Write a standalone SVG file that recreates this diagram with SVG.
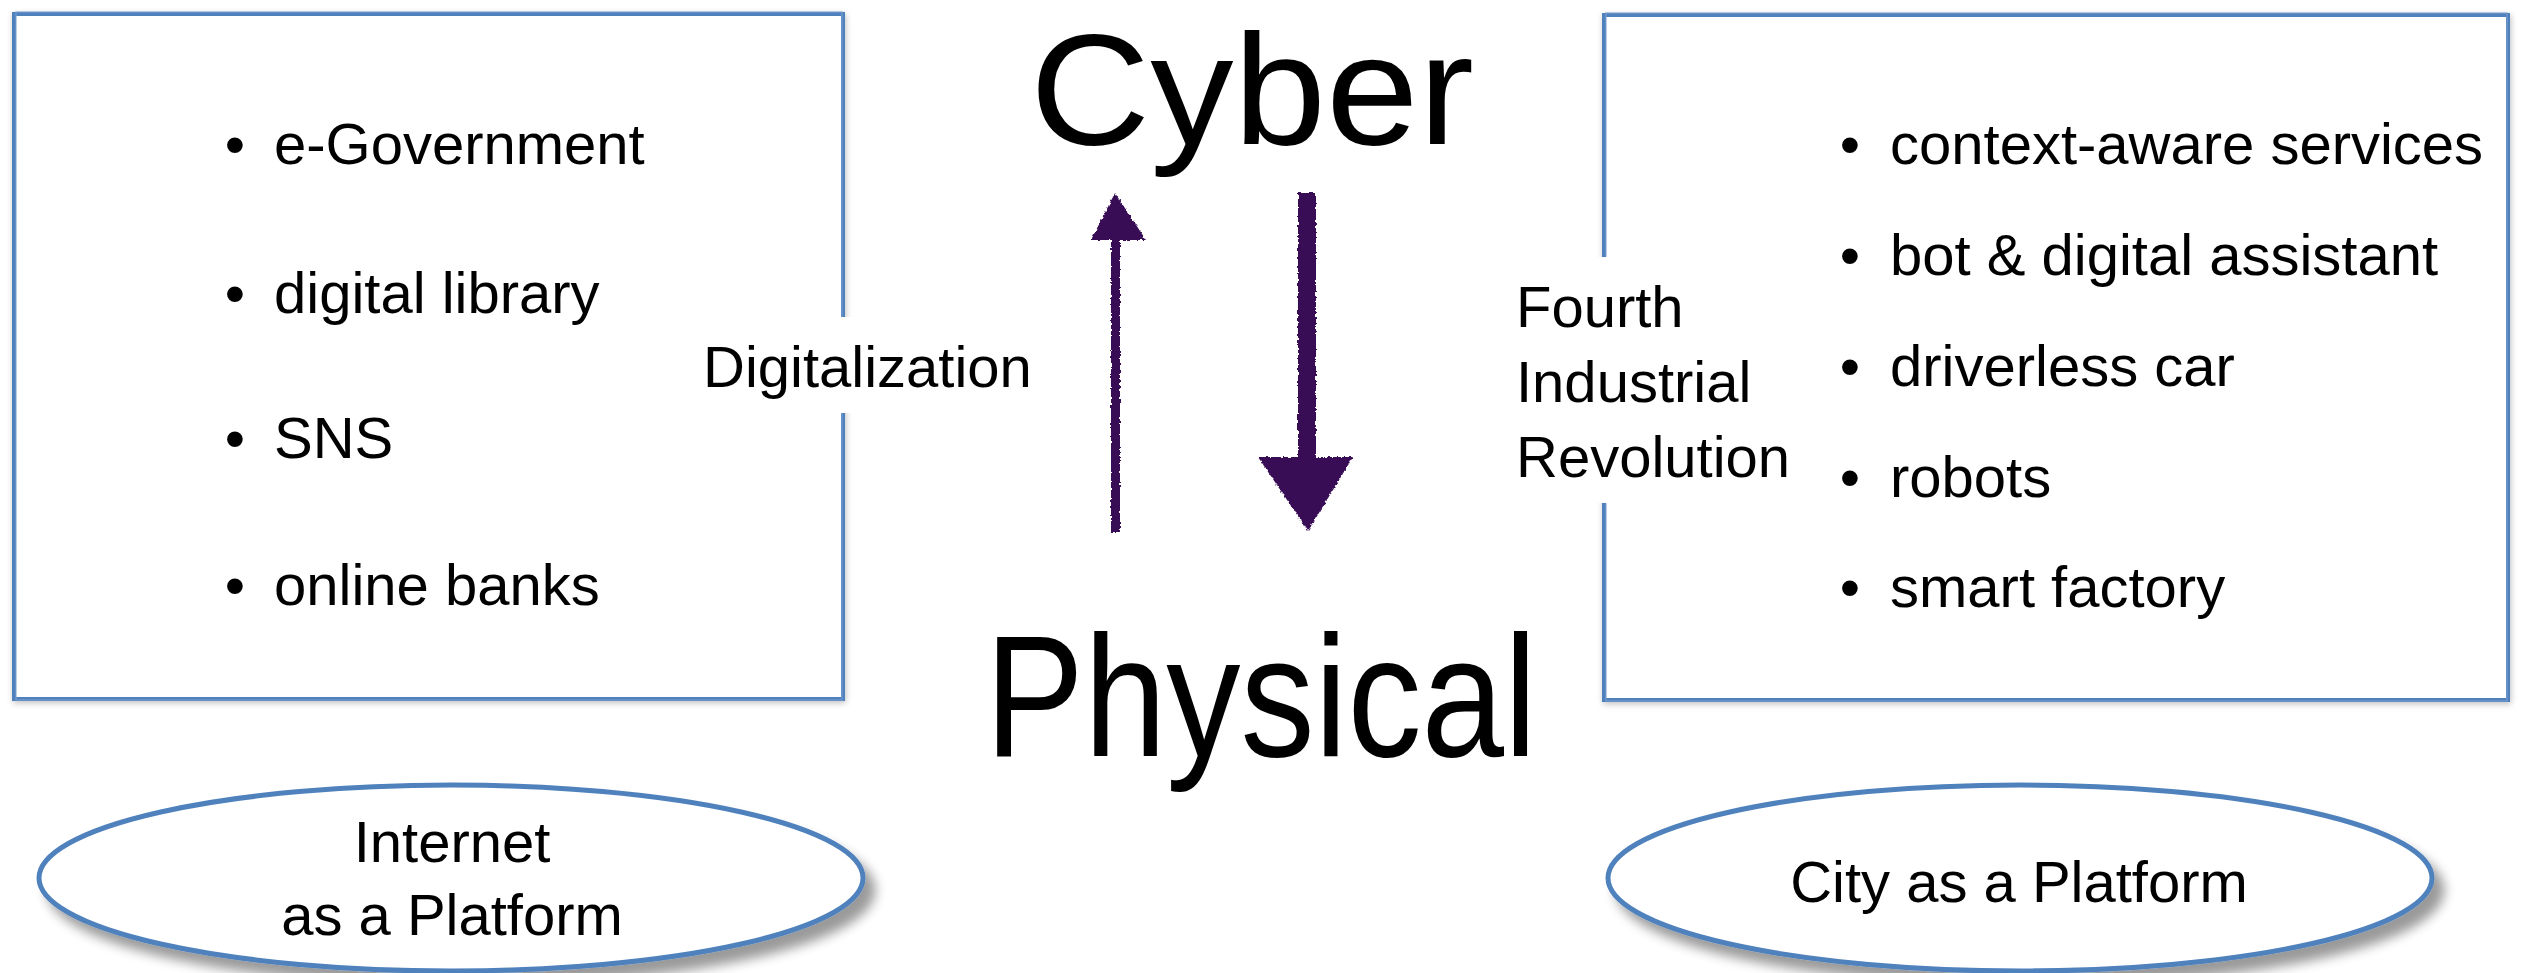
<svg xmlns="http://www.w3.org/2000/svg" width="2523" height="973" viewBox="0 0 2523 973">
  <defs>
    <style>
      .t { font-family: "Liberation Sans", Arial, sans-serif; fill: #000; }
      .item { font-size: 58px; }
      .big { font-size: 172px; }
      .box { fill: #ffffff; stroke: #4f81bd; stroke-width: 4; }
      .box2 { fill: none; stroke: #7aa0d0; stroke-width: 1.5; opacity: 0.7; }
      .ell { fill: #ffffff; stroke: #4f81bd; stroke-width: 5; }
      .arrow { fill: #380c55; }
    </style>
    <filter id="boxShadow" x="-5%" y="-5%" width="110%" height="110%">
      <feGaussianBlur in="SourceAlpha" stdDeviation="3"/>
      <feOffset dx="1" dy="2" result="b"/>
      <feComponentTransfer><feFuncA type="linear" slope="0.25"/></feComponentTransfer>
      <feMerge><feMergeNode/><feMergeNode in="SourceGraphic"/></feMerge>
    </filter>
    <filter id="ellShadow" x="-10%" y="-20%" width="120%" height="150%">
      <feGaussianBlur in="SourceAlpha" stdDeviation="6"/>
      <feOffset dx="10" dy="12" result="b"/>
      <feComponentTransfer><feFuncA type="linear" slope="0.4"/></feComponentTransfer>
      <feMerge><feMergeNode/><feMergeNode in="SourceGraphic"/></feMerge>
    </filter>
    <filter id="rough" x="-20%" y="-5%" width="140%" height="110%">
      <feTurbulence type="fractalNoise" baseFrequency="0.35" numOctaves="2" seed="3" result="n"/>
      <feDisplacementMap in="SourceGraphic" in2="n" scale="4" xChannelSelector="R" yChannelSelector="G"/>
    </filter>
  </defs>

  <rect x="0" y="0" width="2523" height="973" fill="#ffffff"/>

  <!-- Left box -->
  <g id="box-internet">
    <rect class="box" x="14" y="14" width="829" height="685" filter="url(#boxShadow)"/>
    <rect class="box2" x="16" y="12" width="826" height="688"/>
    <text class="t item" x="235" y="164" text-anchor="middle">•</text>
    <text class="t item" x="274" y="164">e-Government</text>
    <text class="t item" x="235" y="313" text-anchor="middle">•</text>
    <text class="t item" x="274" y="313">digital library</text>
    <text class="t item" x="235" y="458" text-anchor="middle">•</text>
    <text class="t item" x="274" y="458">SNS</text>
    <text class="t item" x="235" y="605" text-anchor="middle">•</text>
    <text class="t item" x="274" y="605">online banks</text>
  </g>

  <!-- Right box -->
  <g id="box-city">
    <rect class="box" x="1604" y="15" width="904" height="685" filter="url(#boxShadow)"/>
    <rect class="box2" x="1606" y="13" width="901" height="688"/>
    <text class="t item" x="1850" y="164" text-anchor="middle">•</text>
    <text class="t item" x="1890" y="164">context-aware services</text>
    <text class="t item" x="1850" y="275" text-anchor="middle">•</text>
    <text class="t item" x="1890" y="275">bot &amp; digital assistant</text>
    <text class="t item" x="1850" y="386" text-anchor="middle">•</text>
    <text class="t item" x="1890" y="386">driverless car</text>
    <text class="t item" x="1850" y="497" text-anchor="middle">•</text>
    <text class="t item" x="1890" y="497">robots</text>
    <text class="t item" x="1850" y="607" text-anchor="middle">•</text>
    <text class="t item" x="1890" y="607">smart factory</text>
  </g>

  <!-- Labels with white backgrounds -->
  <g id="label-digitalization">
    <rect x="698" y="317" width="340" height="96" fill="#ffffff"/>
    <text class="t item" x="703" y="387">Digitalization</text>
  </g>
  <g id="label-fourth">
    <rect x="1508" y="257" width="290" height="246" fill="#ffffff"/>
    <text class="t item" x="1516" y="327">Fourth</text>
    <text class="t item" x="1516" y="402">Industrial</text>
    <text class="t item" x="1516" y="477">Revolution</text>
  </g>

  <!-- Cyber / Physical -->
  <g id="node-cyber">
    <text class="t" style="font-size:158px" x="1030" y="144" textLength="444" lengthAdjust="spacingAndGlyphs">Cyber</text>
  </g>
  <g id="node-physical">
    <text class="t big" x="985" y="756" textLength="552" lengthAdjust="spacingAndGlyphs">Physical</text>
  </g>

  <!-- Connectors -->
  <g id="connectors" filter="url(#rough)">
    <g id="arrow-up">
      <rect class="arrow" x="1111" y="236" width="9" height="296"/>
      <polygon class="arrow" points="1091,240 1146,240 1115,193"/>
    </g>
    <g id="arrow-down">
      <rect class="arrow" x="1298" y="193" width="18" height="268"/>
      <polygon class="arrow" points="1258,457 1353,457 1308,531"/>
    </g>
  </g>

  <!-- Ellipses -->
  <g id="ellipse-internet">
    <ellipse class="ell" cx="451" cy="878" rx="412" ry="93" filter="url(#ellShadow)"/>
    <text class="t item" x="452" y="862" text-anchor="middle">Internet</text>
    <text class="t item" x="452" y="935" text-anchor="middle">as a Platform</text>
  </g>
  <g id="ellipse-city">
    <ellipse class="ell" cx="2020" cy="878" rx="412" ry="93" filter="url(#ellShadow)"/>
    <text class="t item" x="2019" y="902" text-anchor="middle">City as a Platform</text>
  </g>
</svg>
